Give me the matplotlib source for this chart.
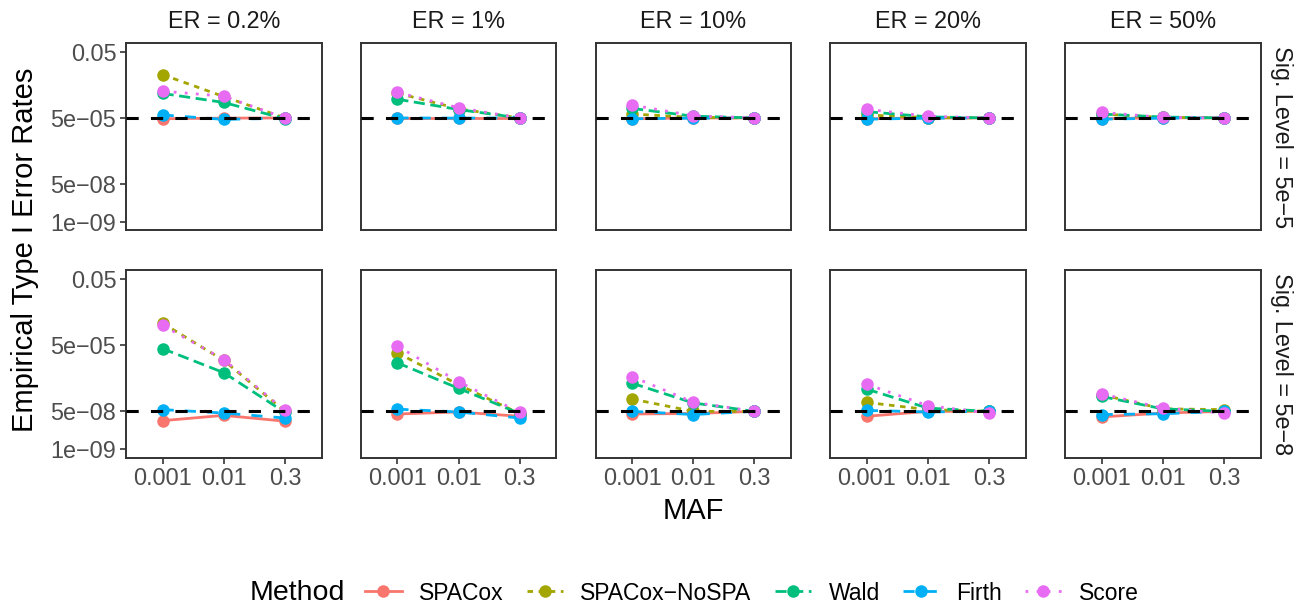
import matplotlib
matplotlib.use("Agg")
import matplotlib.pyplot as plt
from matplotlib.lines import Line2D
import numpy as np

plt.rcParams['font.family'] = ['Liberation Sans', 'DejaVu Sans']

# ---------------- data ----------------
maf_labels = ["0.001", "0.01", "0.3"]
er_labels = ["ER = 0.2%", "ER = 1%", "ER = 10%", "ER = 20%", "ER = 50%"]
sig_labels = ["Sig. Level = 5e\u22125", "Sig. Level = 5e\u22128"]
sig_levels = [5e-5, 5e-8]
methods = ["SPACox", "SPACox\u2212NoSPA", "Wald", "Firth", "Score"]

# rows: ER levels; cols: MAF levels  (Sig. level = 5e-5)
spacox_top = [[4.6e-5, 4.9e-5, 5.0e-5], [5.0e-5, 5.0e-5, 5.0e-5], [4.6e-5, 5.0e-5, 5.0e-5],
              [4.6e-5, 5.0e-5, 5.0e-5], [4.6e-5, 5.1e-5, 5.0e-5]]
nospa_top = [[4.5e-3, 4.6e-4, 5.0e-5], [6.6e-4, 1.3e-4, 5.0e-5], [7.5e-5, 5.3e-5, 5.0e-5],
             [6.8e-5, 5.2e-5, 5.0e-5], [7.5e-5, 5.3e-5, 5.0e-5]]
wald_top = [[6.4e-4, 2.5e-4, 4.6e-5], [3.5e-4, 1.2e-4, 5.0e-5], [1.35e-4, 6.0e-5, 5.0e-5],
            [9.6e-5, 5.6e-5, 5.0e-5], [7.5e-5, 5.5e-5, 5.0e-5]]
firth_top = [[6.8e-5, 4.3e-5, 4.9e-5], [5.0e-5, 4.9e-5, 5.0e-5], [4.6e-5, 4.9e-5, 5.0e-5],
             [4.4e-5, 4.9e-5, 5.0e-5], [4.4e-5, 4.9e-5, 5.0e-5]]
score_top = [[8.1e-4, 4.8e-4, 5.0e-5], [7.1e-4, 1.45e-4, 5.0e-5], [1.9e-4, 6.3e-5, 5.0e-5],
             [1.23e-4, 6.0e-5, 5.0e-5], [9.0e-5, 5.3e-5, 5.0e-5]]

# Sig. level = 5e-8
spacox_bot = [[1.9e-8, 3.3e-8, 1.8e-8], [3.8e-8, 4.7e-8, 3.0e-8], [3.8e-8, 4.0e-8, 5.0e-8],
              [3.0e-8, 5.0e-8, 5.0e-8], [2.8e-8, 4.2e-8, 5.0e-8]]
nospa_bot = [[4.8e-4, 1.0e-5, 5.0e-8], [2.2e-5, 8.0e-7, 4.0e-8], [1.8e-7, 5.0e-8, 5.0e-8],
             [1.26e-7, 6.0e-8, 5.0e-8], [2.8e-7, 6.5e-8, 6.0e-8]]
wald_bot = [[3.4e-5, 2.8e-6, 4.5e-8], [7.8e-6, 5.5e-7, 4.0e-8], [9.3e-7, 1.2e-7, 5.0e-8],
            [5.0e-7, 7.0e-8, 5.0e-8], [2.35e-7, 6.5e-8, 5.0e-8]]
firth_bot = [[6.0e-8, 4.2e-8, 2.5e-8], [6.3e-8, 4.7e-8, 2.5e-8], [5.0e-8, 3.6e-8, 5.0e-8],
             [5.5e-8, 4.7e-8, 5.0e-8], [3.6e-8, 3.9e-8, 5.0e-8]]
score_bot = [[3.8e-4, 1.1e-5, 5.5e-8], [4.4e-5, 1.1e-6, 4.5e-8], [1.85e-6, 1.3e-7, 5.0e-8],
             [8.3e-7, 9.0e-8, 4.2e-8], [3.1e-7, 7.0e-8, 4.2e-8]]

y_ticks = [0.05, 5e-5, 5e-8, 1e-9]
y_ticklabels = ["0.05", "5e\u221205", "5e\u221208", "1e\u221209"]

# ---------------- styles ----------------
colors = ["#F8766D", "#A3A500", "#00BF7D", "#00B0F6", "#E76BF3"]
lstyles = ["-", (0, (2, 2)), (0, (4, 2)), (0, (4, 4)), (0, (1, 3))]
LW = 2.0
MS = 9

W, H = 1304, 609
fig = plt.figure(figsize=(W / 100, H / 100), dpi=100)

data = [[spacox_top, nospa_top, wald_top, firth_top, score_top],
        [spacox_bot, nospa_bot, wald_bot, firth_bot, score_bot]]

pw, ph = 195.5, 187.5
lefts = [126 + i * 234.75 for i in range(5)]
tops = [43, 270]
ylo, yhi = 10 ** -9.385, 10 ** -0.916
x = np.arange(1, 4)
txtcol = "#4D4D4D"
spcol = "#333333"

for r in range(2):
    for c in range(5):
        ax = fig.add_axes([lefts[c] / W, 1 - (tops[r] + ph) / H, pw / W, ph / H])
        for m in range(5):
            ax.plot(x, data[r][m][c], color=colors[m], linestyle=lstyles[m], lw=LW,
                    marker='o', markersize=MS, markeredgewidth=0, zorder=2 + m)
        ax.axhline(sig_levels[r], color='black', linestyle=(0, (4, 4)), lw=2.2, zorder=10)
        ax.set_yscale('log')
        ax.set_ylim(ylo, yhi)
        ax.set_xlim(0.4, 3.6)
        ax.minorticks_off()
        for s in ax.spines.values():
            s.set_color(spcol)
            s.set_linewidth(1.4)
        ax.set_yticks(y_ticks)
        ax.set_xticks(x)
        ax.tick_params(axis='both', length=4, width=1.2, color=spcol, labelcolor=txtcol,
                       labelsize=16.8, pad=3)
        if c == 0:
            ax.set_yticklabels(y_ticklabels)
        else:
            ax.tick_params(axis='y', left=False, labelleft=False)
        if r == 1:
            ax.set_xticklabels(maf_labels)
        else:
            ax.tick_params(axis='x', bottom=False, labelbottom=False)
        if r == 0:
            ax.text(0.5, 1 + 22 / ph * 0 + (43 - 22) / ph, er_labels[c], transform=ax.transAxes,
                    ha='center', va='center', fontsize=16.8, color='#1A1A1A')
        if c == 4:
            ax.text(1 + (1282 - lefts[4] - pw) / pw, 0.5, sig_labels[r], transform=ax.transAxes,
                    ha='center', va='center', rotation=-90, fontsize=16.8, color='#1A1A1A')

# axis titles
fig.text(0.5 * (lefts[0] + lefts[4] + pw) / W, 1 - 511 / H, "MAF", ha='center', va='center',
         fontsize=21, color='black')
fig.text(25 / W, 1 - 250 / H, "Empirical Type I Error Rates", ha='center', va='center',
         rotation=90, fontsize=21, color='black')

# legend
handles = [Line2D([0], [0], color=colors[m], linestyle=lstyles[m], lw=LW, marker='o',
                  markersize=MS, markeredgewidth=0) for m in range(5)]
fig.text(250 / W, 1 - 593 / H, "Method", ha='left', va='center', fontsize=20.5, color='black')
fig.legend(handles, methods, ncol=5, loc='center', bbox_to_anchor=(752 / W, 1 - 593 / H),
           frameon=False, fontsize=16.5, handlelength=1.6, handletextpad=0.75,
           columnspacing=1.0, borderpad=0, borderaxespad=0)

fig.savefig("out.png", dpi=100)
